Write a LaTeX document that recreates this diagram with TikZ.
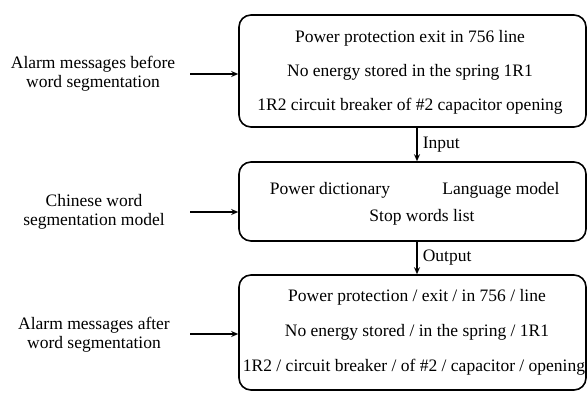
\documentclass[tikz,border=0pt]{standalone}
\usepackage{fontspec}
\setmainfont{Liberation Serif}
\usetikzlibrary{arrows.meta}
\begin{document}
\begin{tikzpicture}[x=1pt,y=-1pt,
  box/.style={draw,line width=1.6pt,rounded corners=12pt,inner sep=0pt},
  txt/.style={font=\fontsize{17.5}{20}\selectfont,inner sep=0pt},
  lbl/.style={font=\fontsize{17.5}{19}\selectfont,align=center,inner sep=0pt},
  arr/.style={-{Stealth[length=7pt,width=6pt]},line width=1.5pt}]
\useasboundingbox (0,0) rectangle (587,392);
\node[box,minimum width=347pt,minimum height=112pt] (b1) at (412.5,71) {};
\node[box,minimum width=347pt,minimum height=79pt] (b2) at (412.5,201.5) {};
\node[box,minimum width=347pt,minimum height=115pt] (b3) at (412.5,332.5) {};
\node[txt] (t11) at (410,38) {Power protection exit in 756 line};
\node[txt] (t12) at (410,72) {No energy stored in the spring 1R1};
\node[txt] (t13) at (410,106) {1R2 circuit breaker of \#2 capacitor opening};
\node[txt] (t21) at (330,190) {Power dictionary};
\node[txt] (t22) at (501,190) {Language model};
\node[txt] (t23) at (422,217) {Stop words list};
\node[txt] (t31) at (417,297) {Power protection / exit / in 756 / line};
\node[txt] (t32) at (417,332) {No energy stored / in the spring / 1R1};
\node[txt] (t33) at (414,367) {1R2 / circuit breaker / of \#2 / capacitor / opening};
\node[lbl] (l1) at (93,74) {Alarm messages before\\word segmentation};
\node[lbl] (l2) at (94,212) {Chinese word\\segmentation model};
\node[lbl] (l3) at (94,335) {Alarm messages after\\word segmentation};
\coordinate (a1) at (190,74);
\coordinate (a2) at (190,212);
\coordinate (a3) at (190,334);
\draw[arr] (a1) -- (b1.west|-a1);
\draw[arr] (a2) -- (b2.west|-a2);
\draw[arr] (a3) -- (b3.west|-a3);
\draw[arr] (b1.south-|417,0) -- (b2.north-|417,0) node[midway,right=5pt,txt] (in) {Input};
\draw[arr] (b2.south-|417,0) -- (b3.north-|417,0) node[midway,right=5pt,txt] (out) {Output};
\end{tikzpicture}
\end{document}
